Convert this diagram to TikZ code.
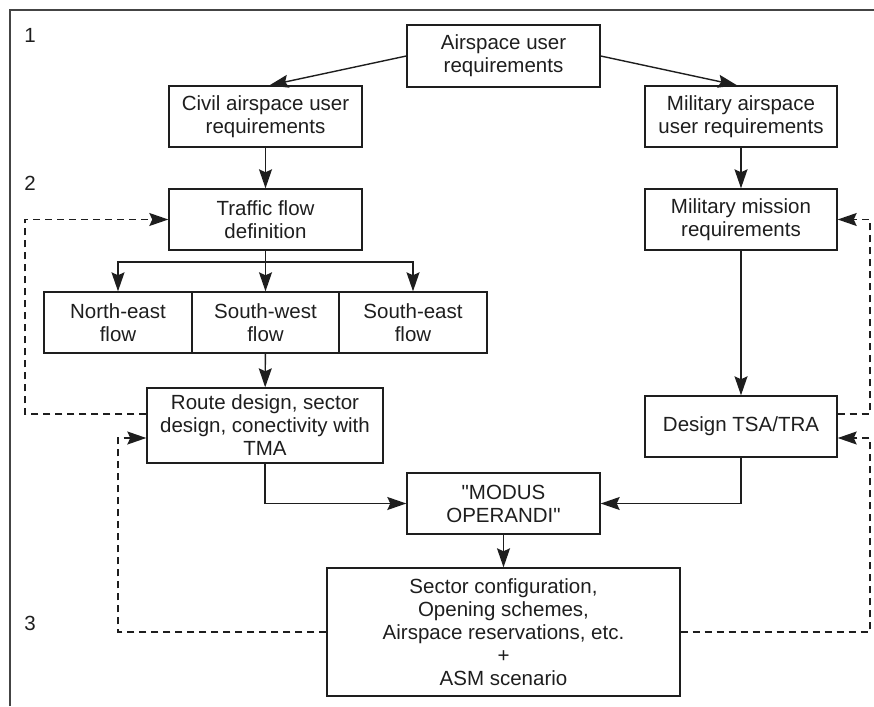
\documentclass[tikz,border=0pt]{standalone}
\usepackage{fontspec}
\setmainfont{Liberation Sans}[Ligatures=TeXOff]
\usetikzlibrary{arrows.meta,calc}
\definecolor{ink}{HTML}{1E1E1E}
\definecolor{frame}{HTML}{444444}
\begin{document}
\begin{tikzpicture}[x=1pt,y=-1pt,
  box/.style={draw=ink,line width=1.4pt,align=center,inner sep=0pt,text=ink,
    font=\fontsize{20.5}{23}\selectfont},
  conn/.style={draw=ink,line width=1.4pt,-{Stealth[length=19pt,width=13pt,inset=3pt]}},
  dsh/.style={conn,dash pattern=on 7pt off 5pt},
  lbl/.style={text=ink,font=\fontsize{20.5}{24}\selectfont,inner sep=0pt}]
\useasboundingbox (0,0) rectangle (874,706);
% frame
\draw[frame,line width=1.5pt] (10,706) -- (10,10) -- (874,10);
\node[lbl] (n1) at (30,35) {1};
\node[lbl] (n2) at (30,183) {2};
\node[lbl] (n3) at (30,623) {3};
% boxes
\node[box,minimum width=193pt,minimum height=62pt] (air) at (503.5,56) {Airspace user\\requirements};
\node[box,minimum width=193pt,minimum height=61pt] (civ) at (265.5,116.5) {Civil airspace user\\requirements};
\node[box,minimum width=192pt,minimum height=61pt] (mil) at (741,116.5) {Military airspace\\user requirements};
\node[box,minimum width=193pt,minimum height=61pt] (traf) at (265.5,219.5) {Traffic flow\\definition};
\node[box,minimum width=192pt,minimum height=61pt] (miss) at (741,219.5) {Military mission\\requirements};
\node[box,minimum width=148pt,minimum height=61pt] (ne) at (118,322.5) {North-east\\flow};
\node[box,minimum width=147pt,minimum height=61pt] (sw) at (265.5,322.5) {South-west\\flow};
\node[box,minimum width=148pt,minimum height=61pt] (se) at (413,322.5) {South-east\\flow};
\node[box,minimum width=236pt,minimum height=75pt] (route) at (265,425.5) {Route design, sector\\design, conectivity with\\TMA};
\node[box,minimum width=192pt,minimum height=61pt] (tsa) at (741,426.5) {Design TSA/TRA};
\node[box,minimum width=193pt,minimum height=61pt] (modus) at (503.5,503.5) {"MODUS\\OPERANDI"};
\node[box,minimum width=353pt,minimum height=128pt] (sect) at (503.5,632) {Sector configuration,\\Opening schemes,\\Airspace reservations, etc.\\+\\ASM scenario};
% solid connectors
\draw[conn] (air.west) -- ([xshift=4pt]civ.north);
\draw[conn] (air.east) -- ([xshift=-4pt]mil.north);
\draw[conn] (civ) -- (traf);
\draw[conn] (mil) -- (miss);
\coordinate (split) at (265.5,262);
\draw[line width=1.4pt,ink] (traf.south) -- (split);
\draw[conn] (split) -| (ne.north);
\draw[conn] (split) -- (sw.north);
\draw[conn] (split) -| (se.north);
\draw[conn] (sw) -- (route);
\draw[conn] (route.south) |- (modus.west);
\draw[conn] (miss) -- (tsa);
\draw[conn] (tsa.south) |- (modus.east);
\draw[conn] (modus) -- (sect);
% dashed feedback
\coordinate (la) at (25,219.5);
\coordinate (lb) at (118,438);
\coordinate (ra) at (870,219.5);
\coordinate (rb) at (870,438);
\draw[dsh] ([yshift=11.5pt]route.west) -| (la) -- (traf.west);
\draw[dsh] (sect.west) -| (lb) -- ([yshift=-12.5pt]route.west);
\draw[dsh] ([yshift=12.5pt]tsa.east) -| (ra) -- (miss.east);
\draw[dsh] (sect.east) -| (rb) -- ([yshift=-11.5pt]tsa.east);
\end{tikzpicture}
\end{document}
